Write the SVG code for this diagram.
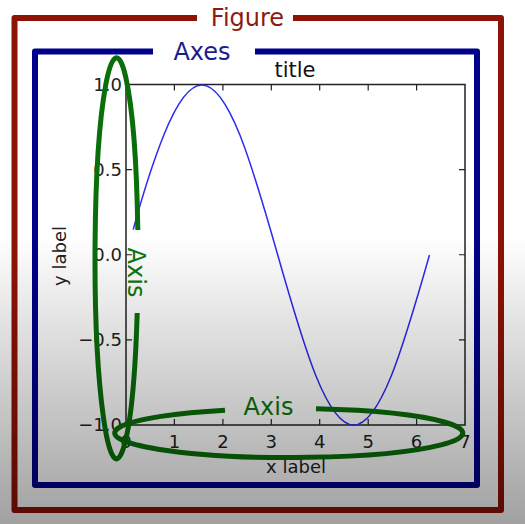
<svg xmlns="http://www.w3.org/2000/svg" width="525" height="524" viewBox="0 0 525 524">
<defs>
<linearGradient id="shade" x1="0" y1="0" x2="0" y2="1">
<stop offset="0" stop-color="#000" stop-opacity="0"/>
<stop offset="0.45" stop-color="#000" stop-opacity="0"/>
<stop offset="1" stop-color="#000" stop-opacity="0.37"/>
</linearGradient>
<style>
text{font-family:"DejaVu Sans","Liberation Sans",sans-serif}
.tick{font-size:18px;fill:#222}
.lbl{font-size:18px;fill:#222}
.tk{stroke:#222;stroke-width:1.2;fill:none}
.green{fill:none;stroke:#0a6e0a;stroke-width:5}
.axis-t{font-size:24px;fill:#0a780a}
</style>
</defs>
<rect x="0" y="0" width="525" height="524" fill="#fff"/>
<g id="plot">
<rect x="126" y="84.5" width="339" height="340.5" fill="none" stroke="#222" stroke-width="1.5"/>
<path class="tk" d="M174.4,84.5v6M222.9,84.5v6M271.3,84.5v6M319.7,84.5v6M368.2,84.5v6M416.6,84.5v6M174.4,425v-6M222.9,425v-6M271.3,425v-6M319.7,425v-6M368.2,425v-6M416.6,425v-6M126,169.6h6M126,254.75h6M126,339.9h6M465,169.6h-6M465,254.75h-6M465,339.9h-6"/>
<path fill="none" stroke="#2b2bf5" stroke-width="1.5" transform="translate(1,0)" d="M132.2,229.6 C141.3,196.1 152.4,161.1 162.94,134.79 C175.58,103.32 188.22,85 200.87,85 C213.51,85 226.16,103.32 238.8,134.79 C251.45,166.26 264.09,210.49 276.74,255 C289.38,299.51 302.03,343.74 314.67,375.21 C327.32,406.68 339.96,425 352.61,425 C365.25,425 377.9,406.68 390.54,375.21 C403.19,343.74 415.83,299.51 428.48,255"/>
<text x="295" y="77" text-anchor="middle" style="font-size:21px;fill:#111">title</text>
</g>
<g id="yaxis-ticks" class="tick" text-anchor="end">
<text x="122" y="91">1.0</text>
<text x="122" y="176">0.5</text>
<text x="122" y="261">0.0</text>
<text x="122" y="346">−0.5</text>
<text x="122" y="431">−1.0</text>
</g>
<g id="xaxis-ticks" class="tick" text-anchor="middle">
<text x="126" y="448">0</text>
<text x="174.4" y="448">1</text>
<text x="222.9" y="448">2</text>
<text x="271.3" y="448">3</text>
<text x="319.7" y="448">4</text>
<text x="368.2" y="448">5</text>
<text x="416.6" y="448">6</text>
<text x="465" y="448">7</text>
</g>
<g id="labels" class="lbl" text-anchor="middle">
<text x="296" y="473">x label</text>
<text transform="translate(66,256) rotate(-90)">y label</text>
</g>
<g id="yaxis">
<path class="green" d="M137.8,230 A21.5,200.5 0 1 0 137.2,313"/>
<text class="axis-t" transform="translate(128,272.5) rotate(90)" text-anchor="middle">Axis</text>
</g>
<g id="xaxis">
<path class="green" d="M316,408.8 A174,24.5 0 1 1 225,410.2"/>
<text class="axis-t" x="268.5" y="415" text-anchor="middle">Axis</text>
</g>
<g id="axes">
<path d="M153,51.5 H35 V485 H477 V51.5 H255" fill="none" stroke="#00008a" stroke-width="6" stroke-linejoin="round"/>
<text x="202" y="60" text-anchor="middle" style="font-size:24px;fill:#1c1c8c">Axes</text>
</g>
<g id="figure">
<path d="M197,18 H14.5 V510 H501 V18 H293" fill="none" stroke="#8e1206" stroke-width="6" stroke-linejoin="round"/>
<text x="247.5" y="26" text-anchor="middle" style="font-size:24px;fill:#8e1a12">Figure</text>
</g>
<rect x="0" y="0" width="525" height="524" fill="url(#shade)" pointer-events="none"/>
</svg>
